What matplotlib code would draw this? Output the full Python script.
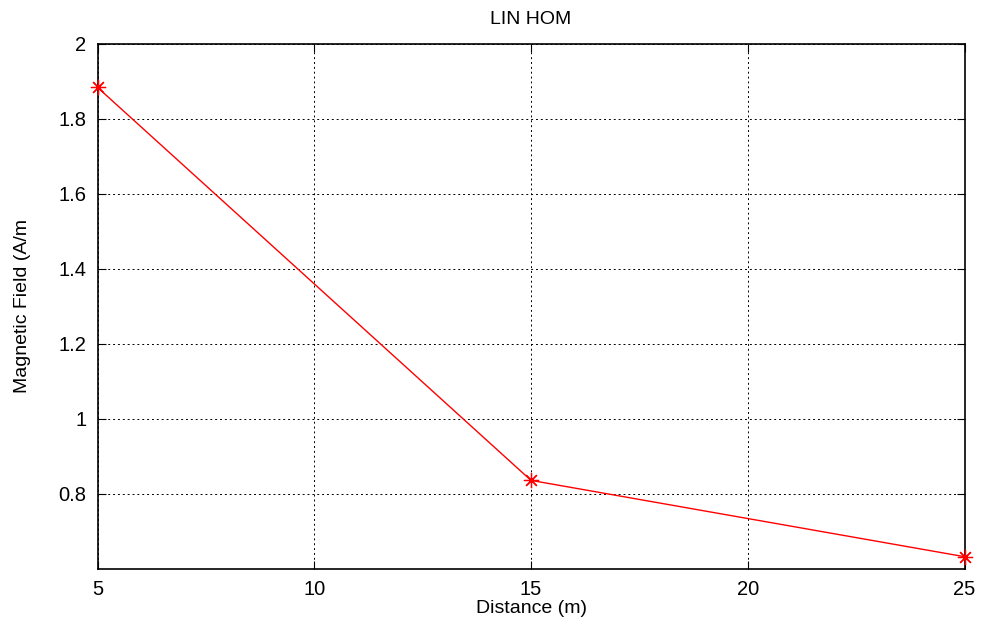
import matplotlib
matplotlib.use("Agg")
import matplotlib.pyplot as plt

distance = [5, 15, 25]
field = [1.883, 0.835, 0.6315]
xticks = [5, 10, 15, 20, 25]
yticks = [0.8, 1.0, 1.2, 1.4, 1.6, 1.8, 2.0]
yticklabels = ["0.8", "1", "1.2", "1.4", "1.6", "1.8", "2"]

plt.rcParams['font.family'] = ['Liberation Sans', 'DejaVu Sans']

fig = plt.figure(figsize=(9.81, 6.25), dpi=100)
ax = fig.add_axes([97.5/981, 1-568.5/625, (964.5-97.5)/981, (568.5-43.5)/625])

ax.plot(distance, field, color='red', linewidth=1.0, marker=(8, 2, 0), markersize=11,
        markeredgewidth=0.9, markerfacecolor='red', markeredgecolor='red', clip_on=False,
        zorder=5)

ax.set_xlim(5, 25)
ax.set_ylim(0.6, 2.0)
ax.set_xticks(xticks)
ax.set_xticklabels([str(t) for t in xticks])
ax.set_yticks(yticks)
ax.set_yticklabels(yticklabels)

ax.grid(True, color='black', linestyle=(0, (2, 3)), linewidth=0.7)
ax.tick_params(direction='in', top=True, right=True, length=6, width=0.8,
               labelsize=14.5, pad=8)
for s in ax.spines.values():
    s.set_linewidth(1.2)

ax.set_title('LIN HOM', fontsize=14, pad=14)
ax.set_xlabel('Distance (m)', fontsize=14, labelpad=1)
ax.set_ylabel('Magnetic Field (A/m', fontsize=14, labelpad=20)

fig.savefig('out.png', dpi=100, facecolor='white')
